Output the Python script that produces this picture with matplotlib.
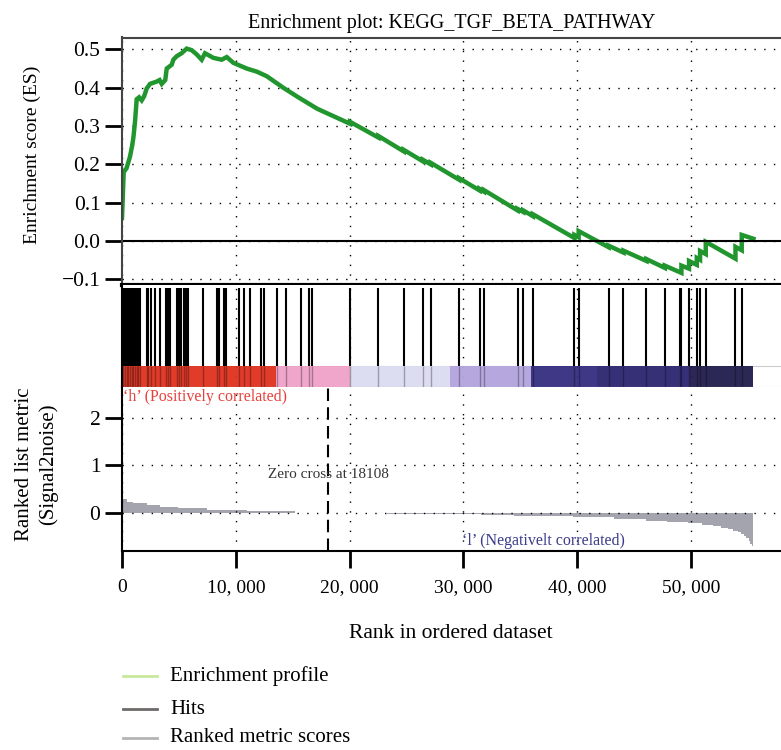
import matplotlib
matplotlib.use("Agg")
import matplotlib.pyplot as plt
from matplotlib.lines import Line2D

plt.rcParams["font.family"] = ["Liberation Serif", "DejaVu Serif"]

# running enrichment score (rank, ES)
ES_RANK = [0, 150, 400, 700, 900, 1000, 1140, 1290, 1500, 1730, 1950, 2170, 2460,
           3050, 3300, 3490, 3800, 3930, 4370, 4510, 4800, 5240, 5685, 6120, 6560,
           7000, 7290, 8020, 8760, 9200, 9780, 10960, 11840, 12720, 14170, 15490,
           17160, 20040, 20040, 22530, 22530, 24750, 24750, 26440, 26440, 27130,
           27130, 29620, 29620, 31420, 31420, 31800, 31800, 34750, 34750, 35250,
           35250, 36100, 36100, 39750, 39750, 40120, 40120, 42750, 42750, 44060,
           44060, 46080, 46080, 47690, 47690, 49150, 49150, 49820, 49820, 50500,
           50500, 50790, 50790, 51290, 51290, 53900, 53900, 54450, 54450, 55480]
ES_VAL = [0.06, 0.18, 0.19, 0.22, 0.25, 0.27, 0.31, 0.37, 0.375, 0.367, 0.378, 0.398, 0.41,
          0.416, 0.42, 0.41, 0.42, 0.45, 0.46, 0.473, 0.482, 0.49, 0.502, 0.498, 0.487,
          0.473, 0.49, 0.478, 0.473, 0.48, 0.465, 0.45, 0.442, 0.43, 0.40, 0.375,
          0.345, 0.306, 0.311, 0.270, 0.274, 0.234, 0.238, 0.208, 0.212, 0.200,
          0.204, 0.160, 0.164, 0.132, 0.136, 0.129, 0.133, 0.080, 0.084, 0.076,
          0.080, 0.065, 0.070, 0.008, 0.016, 0.010, 0.026, -0.016, -0.012, -0.030,
          -0.025, -0.052, -0.047, -0.070, -0.064, -0.083, -0.064, -0.072, -0.052, -0.062,
          -0.044, -0.049, -0.026, -0.034, -0.002, -0.046, -0.015, -0.024, 0.016, 0.006]

# gene set hits (rank positions)
HITS = [115, 263, 410, 556, 700, 850, 990, 1140, 1290, 1430, 1580, 2165, 2310, 2545,
        2895, 3335, 3860, 4035, 4210, 4795, 4970, 5150, 5440, 5615, 5815, 7080, 8305,
        8540, 8975, 9120, 10290, 10730, 11230, 12190, 12485, 13655, 14445, 15760, 16430,
        16725, 20040, 22530, 24750, 26440, 27130, 29620, 31420, 31800, 34750, 35250,
        36100, 39750, 40120, 42750, 44060, 46080, 47690, 49040, 49150, 49820, 50500,
        50790, 51290, 53860, 54450]

# ranked list metric (signal2noise), step values
MET_RANK = [0, 410, 990, 2170, 3340, 4950, 7440, 10960, 15200, 23300, 28800, 31500,
            34400, 39600, 43200, 46000, 47900, 49700, 51000, 51900, 52600, 53200, 53700,
            54100, 54400, 54650, 54850, 55050, 55200, 55350, 55450]
MET_VAL = [0.29, 0.225, 0.2, 0.17, 0.12, 0.098, 0.063, 0.035, 0.006, -0.015, -0.03, -0.05,
           -0.07, -0.09, -0.12, -0.16, -0.19, -0.22, -0.25, -0.28, -0.31, -0.34, -0.37,
           -0.40, -0.44, -0.48, -0.53, -0.59, -0.65, -0.70, 0.0]

# colour bar segments
BAR_START = [0, 13550, 20040, 28850, 35900, 41700, 49900]
BAR_END = [13550, 20040, 28850, 35900, 41700, 49900, 55450]
BAR_COLORS = ["#e0301e", "#f0a0c8", "#dcdcf2", "#b2a4de", "#332d80", "#2b2570", "#201c4c"]

ZERO_CROSS = 18108
X_TICKS = [0, 10000, 20000, 30000, 40000, 50000]
X_TICK_LABELS = ["0", "10, 000", "20, 000", "30, 000", "40, 000", "50, 000"]
ES_TICKS = [-0.1, 0.0, 0.1, 0.2, 0.3, 0.4, 0.5]
ES_TICK_LABELS = ["\u22120.1", "0.0", "0.1", "0.2", "0.3", "0.4", "0.5"]
MET_TICKS = [0, 1, 2]
XMAX = 57900

W, H = 781, 750
fig = plt.figure(figsize=(W / 100, H / 100), dpi=100)


def box(top, bottom, left=122, right=W):
    return [left / W, 1 - bottom / H, (right - left) / W, (bottom - top) / H]


grid_kw = dict(color="black", linestyle=(0, (1, 6)), linewidth=1.0)
tick_kw = dict(length=12, width=2, color="black")

# --- enrichment score panel
ax1 = fig.add_axes(box(37.5, 285))
ax1.plot(ES_RANK, ES_VAL, color="#22962e", linewidth=3.2, solid_joinstyle="miter")
ax1.axhline(0, color="black", linewidth=1.5)
ax1.set_xlim(0, XMAX)
ax1.set_ylim(-0.1146, 0.531)
ax1.set_yticks(ES_TICKS)
ax1.set_yticklabels(ES_TICK_LABELS)
ax1.set_xticks(X_TICKS)
ax1.tick_params(axis="x", length=0, labelbottom=False)
ax1.tick_params(axis="y", labelsize=15.5, **tick_kw)
ax1.grid(True, **grid_kw)
ax1.spines["right"].set_visible(False)
ax1.spines["top"].set_color("#444444")
ax1.spines["top"].set_linewidth(1.5)
ax1.spines["left"].set_color("#444444")
ax1.spines["left"].set_linewidth(1.5)
ax1.spines["bottom"].set_linewidth(3)
ax1.set_ylabel("Enrichment score (ES)", fontsize=14)
ax1.yaxis.set_label_coords(-0.123, 0.524)
ax1.set_title("Enrichment plot: KEGG_TGF_BETA_PATHWAY", fontsize=14.5, pad=7)

# --- hits + colour bar panel
ax2 = fig.add_axes(box(285, 387))
ax2.set_xlim(0, XMAX)
ax2.set_ylim(0, 1)
ax2.bar(BAR_START, 0.206, width=[e - s for s, e in zip(BAR_START, BAR_END)],
        bottom=0, align="edge", color=BAR_COLORS, alpha=0.95, linewidth=0, zorder=2)
ax2.vlines(HITS, 0.206, 0.975, color="black", linewidth=1.5, zorder=3)
ax2.vlines(HITS, 0.0, 0.206, color="black", linewidth=1.0, alpha=0.3, zorder=3)
ax2.axhline(0.206, color="#cccccc", linewidth=0.8, zorder=1)
ax2.set_xticks(X_TICKS)
ax2.set_yticks([])
ax2.tick_params(axis="x", length=0, labelbottom=False)
ax2.grid(True, axis="x", **grid_kw)
for s in ["right", "top"]:
    ax2.spines[s].set_visible(False)
ax2.spines["bottom"].set_color("#bbbbbb")
ax2.spines["bottom"].set_linewidth(0.8)
ax2.spines["left"].set_linewidth(1.5)

# --- ranked list metric panel
ax3 = fig.add_axes(box(387, 551))
ax3.fill_between(MET_RANK, MET_VAL, 0, step="post", color="#a4a4ae", linewidth=0)
ax3.axvline(ZERO_CROSS, color="black", linestyle=(0, (6, 3)), linewidth=1.5)
ax3.text(ZERO_CROSS, 0.8, "Zero cross at 18108", fontsize=11, color="#333333",
         ha="center", va="center")
ax3.text(100, 2.44, "\u2018h\u2019 (Positively correlated)", fontsize=11.5,
         color="#e8403a", ha="left", va="center")
ax3.text(29900, -0.6, "\u2018l\u2019 (Negativelt correlated)", fontsize=11.5,
         color="#3c3c8c", ha="left", va="center")
ax3.set_xlim(0, XMAX)
ax3.set_ylim(-0.8, 2.65)
ax3.set_yticks(MET_TICKS)
ax3.set_xticks(X_TICKS)
ax3.set_xticklabels(X_TICK_LABELS)
ax3.tick_params(axis="y", labelsize=15.5, **tick_kw)
ax3.tick_params(axis="x", labelsize=14, pad=8, **tick_kw)
ax3.grid(True, **grid_kw)
for s in ["right", "top"]:
    ax3.spines[s].set_visible(False)
ax3.spines["left"].set_linewidth(1.5)
ax3.spines["bottom"].set_linewidth(1.5)
ax3.set_ylabel("Ranked list metric\n(Signal2noise)", fontsize=15, linespacing=1.3)
ax3.yaxis.set_label_coords(-0.097, 0.53)

fig.text(451 / W, 1 - 633 / H, "Rank in ordered dataset", fontsize=15.5,
         ha="center", va="center")

# --- legend
legend_rows = [("Enrichment profile", "#c8e89c", 676),
               ("Hits", "#6e6a6a", 709),
               ("Ranked metric scores", "#b4b4b4", 738)]
for label, col, y in legend_rows:
    fig.add_artist(Line2D([123 / W, 157 / W], [1 - y / H, 1 - y / H], color=col,
                          linewidth=2, transform=fig.transFigure))
    fig.text(170 / W, 1 - y / H, label, fontsize=15, ha="left", va="center")

fig.savefig("out.png", dpi=100)
